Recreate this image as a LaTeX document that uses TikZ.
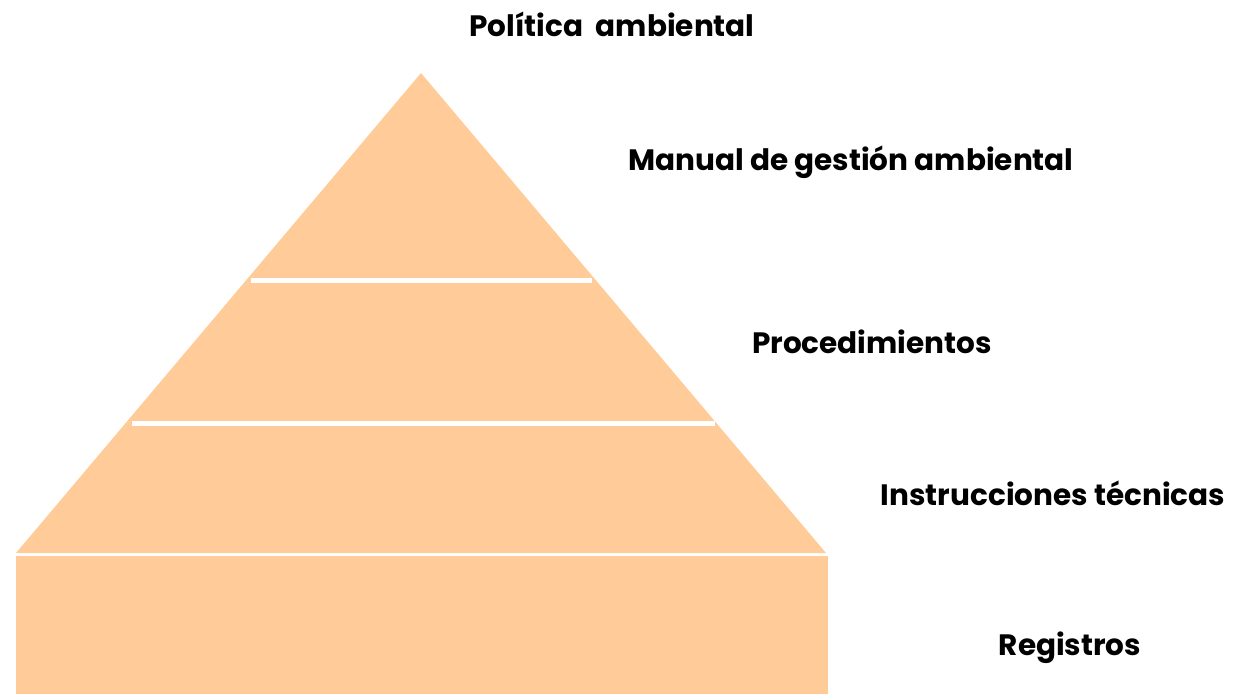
\documentclass[tikz,border=0pt]{standalone}
\usepackage{fontspec}
\setmainfont{Poppins}
\usepackage{tikz}

\definecolor{peach}{HTML}{FFCC99}

\begin{document}
\begin{tikzpicture}[x=1pt,y=-1pt]
    \tikzstyle{level}=[fill=peach];
    \tikzstyle{cut}=[draw=white,line width=5pt];
    \tikzstyle{tag}=[anchor=base,inner sep=0pt,
      font=\fontsize{29.5}{34}\selectfont\bfseries];

    \useasboundingbox (0,0) rectangle (1235,694);

    \coordinate (top) at (421,73); \coordinate (bl) at (16,553);
    \coordinate (br) at (826,553);

    \fill[level] (top) -- (br) -- (bl) -- cycle;
    \fill[level] (16,556) rectangle (828,694);

    \coordinate (c1l) at (251,280); \coordinate (c1r) at (592,280);
    \coordinate (c2l) at (132,423); \coordinate (c2r) at (715,423);
    \draw[cut] (c1l) -- (c1r); \draw[cut] (c2l) -- (c2r);

    \node (pol) [tag] at (612,36) {Política\ \ ambiental};
    \node (man) [tag] at (851,170) {Manual de gestión ambiental};
    \node (pro) [tag] at (872,353) {Procedimientos};
    \node (ins) [tag] at (1053,505) {Instrucciones técnicas};
    \node (reg) [tag] at (1070,655) {Registros};
\end{tikzpicture}
\end{document}
